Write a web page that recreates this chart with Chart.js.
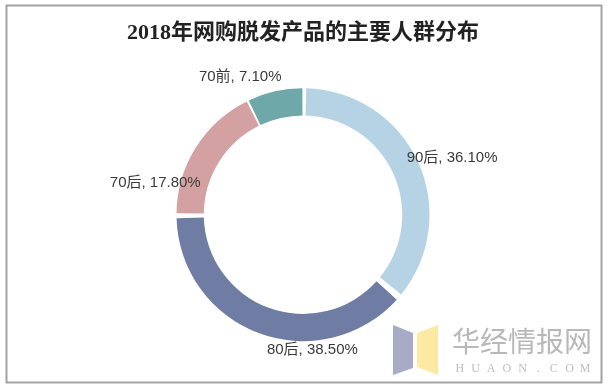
<!DOCTYPE html>
<html>
<head>
<meta charset="utf-8">
<script src="https://cdn.jsdelivr.net/npm/chart.js@4.4.1/dist/chart.umd.min.js"></script>
<style>
  html, body { margin: 0; padding: 0; background: #fff; }
  #wrap { width: 610px; height: 388px; position: relative; }
</style>
</head>
<body>
<div id="wrap"><canvas id="c" width="610" height="388"></canvas></div>
<script>
// 2018年网购脱发产品的主要人群分布
const labels = ['90后', '80后', '70后', '70前'];
const shares = [36.1, 38.5, 17.8, 7.1];
const colors = ['#b5d3e5', '#6f7da4', '#d4a1a2', '#6fa8a9'];

const LABEL_FONT = '15px "Liberation Sans", "Noto Sans CJK SC", sans-serif';
// 标签位置微调（相对扇区中线外侧点）
const labelNudge = [[11, 7], [62, -7], [-19, 49], [-29, 10]];

const frameAndMark = {
  id: 'frameAndMark',
  beforeDraw(chart) {
    const c = chart.ctx;
    c.save();
    c.fillStyle = '#fff';
    c.fillRect(0, 0, chart.width, chart.height);
    c.restore();
  },
  afterDraw(chart) {
    const c = chart.ctx;
    c.save();
    // 外框
    c.strokeStyle = '#a3a3a3';
    c.lineWidth = 2;
    c.strokeRect(6.5, 5.5, 595, 377);

    // 水印 logo
    c.fillStyle = '#a8abc6';
    c.beginPath();
    c.moveTo(393, 325); c.lineTo(413, 333); c.lineTo(413, 368); c.lineTo(393, 375);
    c.closePath(); c.fill();
    c.fillStyle = '#fde9a2';
    c.beginPath();
    c.moveTo(417, 333); c.lineTo(438, 325); c.lineTo(438, 375); c.lineTo(417, 367);
    c.closePath(); c.fill();

    c.fillStyle = '#b8b8b8';
    c.font = '28px "Noto Sans CJK SC", sans-serif';
    c.textBaseline = 'middle';
    c.textAlign = 'left';
    c.fillText('华经情报网', 452, 341);
    c.font = '12px "Liberation Serif", serif';
    c.fillStyle = '#bdbdbd';
    const mark = 'HUAON.COM';
    const step = 141 / mark.length;
    for (let i = 0; i < mark.length; i++) {
      c.textAlign = 'center';
      c.fillText(mark[i], 452 + step * (i + 0.5), 369);
    }
    c.restore();
  }
};

const arcLabels = {
  id: 'arcLabels',
  afterDatasetsDraw(chart) {
    const c = chart.ctx;
    const meta = chart.getDatasetMeta(0);
    c.save();
    c.font = LABEL_FONT;
    c.fillStyle = '#3a3a3a';
    c.textAlign = 'center';
    c.textBaseline = 'middle';
    meta.data.forEach((arc, i) => {
      const p = arc.getProps(['x', 'y', 'startAngle', 'endAngle', 'outerRadius'], true);
      const mid = (p.startAngle + p.endAngle) / 2;
      const r = 152;
      const x = p.x + Math.cos(mid) * r + labelNudge[i][0];
      const y = p.y + Math.sin(mid) * r + labelNudge[i][1];
      c.fillText(`${labels[i]}, ${shares[i].toFixed(2)}%`, x, y);
    });
    c.restore();
  }
};

new Chart(document.getElementById('c'), {
  type: 'doughnut',
  data: {
    labels,
    datasets: [{
      data: shares,
      backgroundColor: colors,
      borderWidth: 0,
      spacing: 5
    }]
  },
  options: {
    responsive: false,
    animation: false,
    radius: 124,
    cutout: '78%',
    layout: { padding: { top: 20, bottom: 18, left: 0, right: 4 } },
    plugins: {
      legend: { display: false },
      tooltip: { enabled: false },
      title: {
        display: true,
        text: '2018年网购脱发产品的主要人群分布',
        color: '#222',
        font: { family: '"Liberation Serif", "Noto Sans CJK SC", serif', size: 22, weight: 'bold' },
        padding: { top: 0, bottom: 13 }
      }
    }
  },
  plugins: [frameAndMark, arcLabels]
});
</script>
</body>
</html>
